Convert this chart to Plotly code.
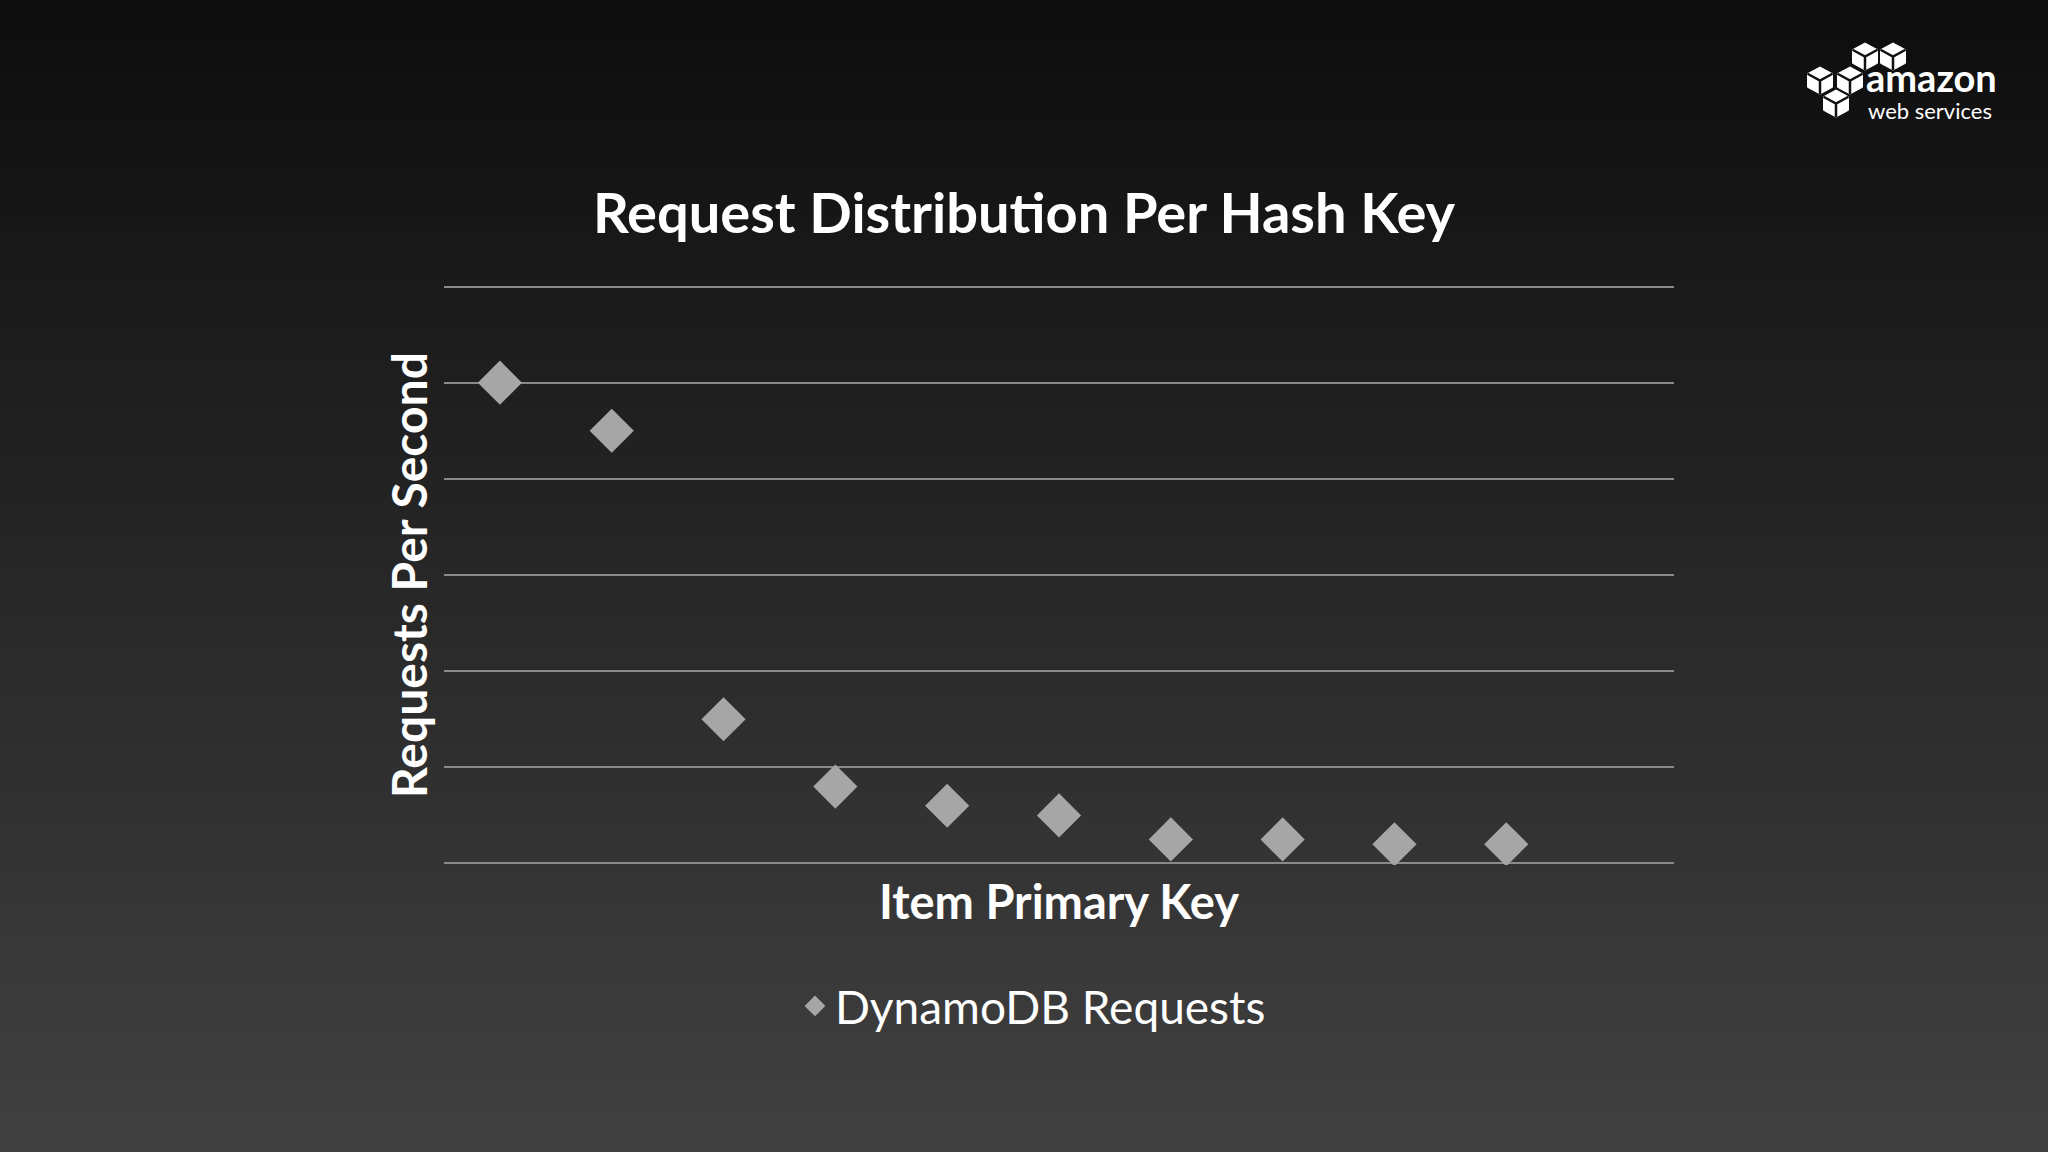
import plotly.graph_objects as go

# ---- data ----
item_keys = [1, 2, 3, 4, 5, 6, 7, 8, 9, 10]
requests_per_second = [5.0, 4.5, 1.5, 0.8, 0.6, 0.5, 0.25, 0.25, 0.2, 0.2]
series_name = "DynamoDB Requests"
chart_title = "Request Distribution Per Hash Key"
x_title = "Item Primary Key"
y_title = "Requests Per Second"
y_grid_values = [0, 1, 2, 3, 4, 5, 6]

W, H = 2048, 1152
ML, MR, MT, MB = 444, 374, 285, 287
PW, PH = W - ML - MR, H - MT - MB

FONT = "Lato"


def px2x(px):
    return (px - ML) / PW


def px2y(py):
    return (H - MB - py) / PH


shapes = []
# vertical background gradient (dark top -> grey bottom)
band = 12
for y in range(0, H, band):
    c = int(round(13 + 52 * (y + band / 2) / H))
    shapes.append(dict(type="rect", xref="paper", yref="paper", layer="below",
                       x0=px2x(-2), x1=px2x(W + 2), y0=px2y(y + band + 1), y1=px2y(y),
                       fillcolor=f"rgb({c},{c},{c})", line=dict(width=0)))


# AWS logo cubes
def cube(cx, top, w=25, h=27):
    pts = {
        "T": (cx, top), "UL": (cx - w / 2, top + h / 4), "LL": (cx - w / 2, top + 3 * h / 4),
        "B": (cx, top + h), "LR": (cx + w / 2, top + 3 * h / 4), "UR": (cx + w / 2, top + h / 4),
        "C": (cx, top + h / 2),
    }
    P = {k: (px2x(v[0]), px2y(v[1])) for k, v in pts.items()}
    hexp = "M {} {} L {} {} L {} {} L {} {} L {} {} L {} {} Z".format(
        *P["T"], *P["UL"], *P["LL"], *P["B"], *P["LR"], *P["UR"])
    inner = "M {} {} L {} {} L {} {} M {} {} L {} {}".format(
        *P["UL"], *P["C"], *P["UR"], *P["C"], *P["B"])
    return [
        dict(type="path", xref="paper", yref="paper", path=hexp,
             fillcolor="white", line=dict(color="white", width=1)),
        dict(type="path", xref="paper", yref="paper", path=inner,
             line=dict(color="#111111", width=2.5)),
    ]


for cx, top in [(1865, 43), (1893, 43), (1820, 67), (1850, 67), (1836, 90)]:
    shapes += cube(cx, top)

annotations = [
    dict(text="<b>amazon</b>", xref="paper", yref="paper", x=px2x(1865), y=px2y(101),
         xanchor="left", yanchor="bottom", showarrow=False, borderpad=0,
         font=dict(family=FONT, size=38, color="white")),
    dict(text="web services", xref="paper", yref="paper", x=px2x(1867), y=px2y(96),
         xanchor="left", yanchor="top", showarrow=False, borderpad=0,
         font=dict(family=FONT, size=22, color="white")),
]

fig = go.Figure()
fig.add_trace(go.Scatter(
    x=item_keys, y=requests_per_second, mode="markers", name=series_name,
    marker=dict(symbol="diamond", size=34, color="#a6a6a6", line=dict(width=0)),
    showlegend=True,
))

fig.update_layout(
    width=W, height=H,
    margin=dict(l=ML, r=MR, t=MT, b=MB, autoexpand=False),
    paper_bgcolor="#262626",
    plot_bgcolor="rgba(0,0,0,0)",
    font=dict(family=FONT, color="white"),
    title=dict(text="<b>" + chart_title + "</b>", x=1024 / W, xanchor="center",
               xref="container", yref="container", y=1 - 213 / H, yanchor="middle",
               font=dict(family=FONT, size=56, color="white")),
    xaxis=dict(range=[0.5, 11.5], showgrid=False, zeroline=False, showline=False,
               showticklabels=False, ticks="",
               title=dict(text="<b>" + x_title + "</b>", standoff=21,
                          font=dict(family=FONT, size=47, color="white"))),
    yaxis=dict(range=[-0.016, 6.016], tickvals=y_grid_values, showgrid=True,
               gridcolor="#8a8a8a", gridwidth=1.5, zeroline=False, showline=False,
               showticklabels=False, ticks="",
               title=dict(text="<b>" + y_title + "</b>", standoff=0,
                          font=dict(family=FONT, size=48, color="white"))),
    showlegend=True,
    legend=dict(orientation="h", xref="paper", x=px2x(1033), xanchor="center",
                yref="container", y=1 - 1006 / H, yanchor="middle",
                font=dict(family=FONT, size=46, color="white"),
                bgcolor="rgba(0,0,0,0)"),
    shapes=shapes,
    annotations=annotations,
)

fig.write_html("out.html", config={"displayModeBar": False},
               post_script="document.body.style.margin='0';document.body.style.padding='0';"
                           "document.body.style.overflow='hidden';")
